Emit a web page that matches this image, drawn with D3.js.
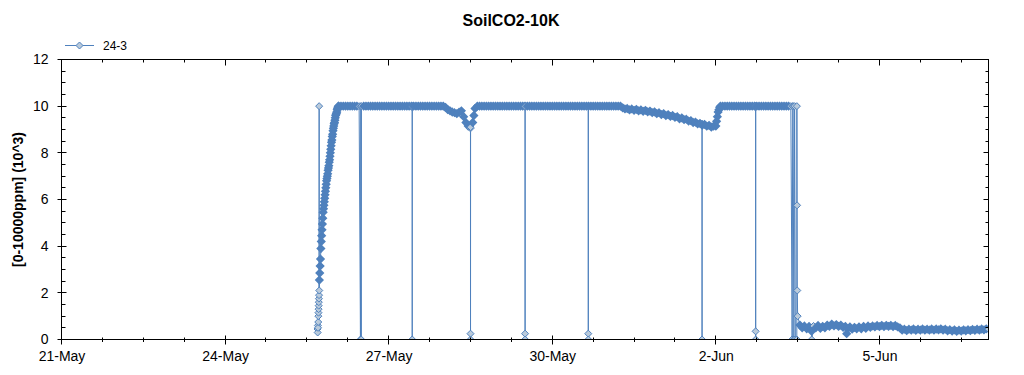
<!DOCTYPE html>
<html>
<head>
<meta charset="utf-8">
<script src="https://cdn.jsdelivr.net/npm/d3@7"></script>
<style>
  body { margin: 0; background: #fff; }
  text { font-family: "Liberation Sans", Arial, sans-serif; }
</style>
</head>
<body>
<svg id="chart" width="1024" height="375"></svg>
<script>
var chartTitle = "SoilCO2-10K";
var yTitle = "[0-10000ppm] (10^3)";
var seriesName = "24-3";
var yTicks = [0, 2, 4, 6, 8, 10, 12];
var xTickDates = ["2015-05-21 00:00", "2015-05-24 00:00", "2015-05-27 00:00",
                  "2015-05-30 00:00", "2015-06-02 00:00", "2015-06-05 00:00"];
var xDomain = ["2015-05-21 00:00", "2015-06-07 00:00"];

// sensor switched on, 25-May afternoon (a few minutes apart)
var startupTimes = ["2015-05-25 16:40", "2015-05-25 16:45", "2015-05-25 16:50", "2015-05-25 16:55",
                    "2015-05-25 17:00", "2015-05-25 17:03", "2015-05-25 17:06", "2015-05-25 17:09",
                    "2015-05-25 17:12", "2015-05-25 17:15", "2015-05-25 17:18", "2015-05-25 17:21",
                    "2015-05-25 17:24", "2015-05-25 17:27"];
var startupValues = [0.45, 0.3, 0.6, 0.5, 0.75, 1.0, 1.15, 1.3, 1.45, 1.6, 1.75, 1.9, 10, 2.1];

// the climb up to the 10 limit, every 10 min from 25-May 17:30
var riseStart = "2015-05-25 17:30";
var riseValues = [2.55, 2.85, 3.15,
  3.45, 3.9, 4.2, 4.45, 4.7, 4.95,
  5.2, 5.45, 5.6, 5.75, 5.9, 6.05,
  6.2, 6.35, 6.5, 6.65, 6.8, 6.9,
  7.0, 7.1, 7.25, 7.35, 7.45, 7.6,
  7.7, 7.85, 8.0, 8.15, 8.3, 8.45,
  8.55, 8.7, 8.8, 8.95, 9.05, 9.15,
  9.25, 9.3, 9.4, 9.5, 9.6, 9.65,
  9.7, 9.75, 9.85, 9.9, 9.95, 10,
  10];

// hourly readings from 26-May 03:00
var hourlyStart = "2015-05-26 03:00";
var hourlyValues = [
  /* 26-May 03-23 */ 10,10,10,10,10,10,10,10,10,10,10,10,10,10,10,10,10,10,10,10,10,
  /* 27-May */ 10,10,10,10,10,10,10,10,10,10,10,10,10,10,10,10,10,10,10,10,10,10,10,10,
  /* 28-May */ 10,9.95,9.85,9.8,9.75,9.72,9.68,9.74,9.8,9.55,9.3,9.15,9.05,9.3,9.9,10,10,10,10,10,10,10,10,10,
  /* 29-May */ 10,10,10,10,10,10,10,10,10,10,10,10,10,10,10,10,10,10,10,10,10,10,10,10,
  /* 30-May */ 10,10,10,10,10,10,10,10,10,10,10,10,10,10,10,10,10,10,10,10,10,10,10,10,
  /* 31-May */ 10,10,10,10,10,10,10,9.93,9.88,9.9,9.84,9.88,9.82,9.86,9.8,9.84,9.78,9.82,9.76,9.79,9.72,9.76,9.68,9.72,
  /* 1-Jun */ 9.64,9.68,9.6,9.64,9.56,9.6,9.52,9.55,9.46,9.5,9.42,9.44,9.36,9.38,9.3,9.32,9.24,9.26,9.18,9.22,9.14,9.18,9.1,9.14,
  /* 2-Jun */ 9.15,9.75,10,10,10,10,10,10,10,10,10,10,10,10,10,10,10,10,10,10,10,10,10,10,
  /* 3-Jun */ 10,10,10,10,10,10,10,10,10,10,10,0,1.0,0.62,0.5,0.58,0.46,0.56,0.48,0.58,0.5,0.6,0.48,0.56,
  /* 4-Jun */ 0.5,0.62,0.56,0.66,0.58,0.64,0.56,0.62,0.52,0.56,0.46,0.54,0.44,0.52,0.46,0.54,0.46,0.56,0.48,0.58,0.52,0.58,0.54,0.6,
  /* 5-Jun */ 0.55,0.61,0.55,0.61,0.56,0.61,0.55,0.6,0.54,0.5,0.4,0.44,0.38,0.44,0.4,0.45,0.39,0.44,0.4,0.45,0.4,0.44,0.4,0.45,
  /* 6-Jun */ 0.4,0.45,0.41,0.46,0.4,0.44,0.37,0.42,0.36,0.41,0.35,0.4,0.36,0.41,0.37,0.42,0.38,0.43,0.39,0.44,0.4,0.45,0.41,0.46,
  /* 7-Jun */ 0.44
];

// dropouts and quick changes between the hourly readings
var eventTimes = [
  "2015-05-26 11:35", "2015-05-26 11:45", "2015-05-26 11:55",
  "2015-05-27 10:21", "2015-05-27 10:22", "2015-05-27 10:23",
  "2015-05-28 12:01", "2015-05-28 12:02", "2015-05-28 12:03", "2015-05-28 13:30",
  "2015-05-29 12:01", "2015-05-29 12:02", "2015-05-29 12:03", "2015-05-29 12:04",
  "2015-05-30 15:50", "2015-05-30 15:51", "2015-05-30 15:52", "2015-05-30 15:53",
  "2015-06-01 17:55", "2015-06-01 17:56", "2015-06-01 17:57",
  "2015-06-02 00:20", "2015-06-02 00:40", "2015-06-02 01:20", "2015-06-02 01:40",
  "2015-06-02 17:30", "2015-06-02 17:31", "2015-06-02 17:32", "2015-06-02 17:33",
  "2015-06-03 09:35", "2015-06-03 09:50", "2015-06-03 10:20", "2015-06-03 10:40",
  "2015-06-03 11:38", "2015-06-03 11:40", "2015-06-03 11:45", "2015-06-03 11:50",
  "2015-06-03 18:08", "2015-06-03 18:12",
  "2015-06-04 09:35"
];
var eventValues = [
  0, 10, 0,
  10, 0, 10,
  0.25, 0, 9.1, 9.6,
  10, 0.25, 0, 10,
  10, 0.25, 0, 10,
  9.25, 0, 9.22,
  9.35, 9.55, 9.85, 9.95,
  10, 0.35, 0, 10,
  0, 10, 0, 10,
  0, 10, 5.75, 2.1,
  0.35, 0,
  0.25
];

var parse = d3.timeParse("%Y-%m-%d %H:%M");

var data = [];
startupTimes.forEach(function (t, i) { data.push({t: parse(t), v: startupValues[i], src: "startup"}); });
riseValues.forEach(function (v, i) { data.push({t: d3.timeMinute.offset(parse(riseStart), i * 10), v: v, src: "rise"}); });
hourlyValues.forEach(function (v, i) { data.push({t: d3.timeHour.offset(parse(hourlyStart), i), v: v, src: "hourly"}); });
eventTimes.forEach(function (t, i) { data.push({t: parse(t), v: eventValues[i], src: "event"}); });
data.sort(function (a, b) { return a.t - b.t; });

var svg = d3.select("#chart");
var pL = 61.5, pR = 988.5, pT = 59.5, pB = 339.5;
var blue = "#4F81BD", markFill = "#B9CADB";

var x = d3.scaleTime().domain(xDomain.map(parse)).range([pL, pR]);
var y = d3.scaleLinear().domain([0, 12]).range([pB, pT]);

// markers packed between close neighbours merge into a solid band (as in the dense original)
function near(a, b) {
  return !!a && !!b && Math.abs(x(b.t) - x(a.t)) < 3 && Math.abs(y(b.v) - y(a.v)) < 11;
}
data.forEach(function (d, i) {
  d.crowded = d.src !== "startup" && near(d, data[i + 1]) && near(d, data[i - 1]);
});

// title and axis title
svg.append("text")
    .attr("x", 511).attr("y", 26)
    .attr("text-anchor", "middle")
    .style("font-size", "16px").style("font-weight", "bold")
    .text(chartTitle);

svg.append("text")
    .attr("transform", "translate(23," + ((pT + pB) / 2) + ") rotate(-90)")
    .attr("text-anchor", "middle")
    .style("font-size", "14px").style("font-weight", "bold")
    .text(yTitle);

// legend
var legend = svg.append("g");
legend.append("line").attr("x1", 65).attr("x2", 94).attr("y1", 45.5).attr("y2", 45.5)
    .attr("stroke", blue).attr("stroke-width", 1);
legend.append("path").attr("d", "M0,-3.5L3.5,0L0,3.5L-3.5,0Z")
    .attr("transform", "translate(79.5,45.5)")
    .attr("fill", markFill).attr("stroke", blue);
legend.append("text").attr("x", 103).attr("y", 49.5)
    .style("font-size", "12px").text(seriesName);

// series, clipped to the plot area
svg.append("clipPath").attr("id", "plotClip")
    .append("rect").attr("x", pL).attr("y", pT).attr("width", pR - pL).attr("height", pB - pT);

var plot = svg.append("g").attr("clip-path", "url(#plotClip)");

plot.append("path")
    .datum(data)
    .attr("fill", "none")
    .attr("stroke", blue)
    .attr("stroke-width", 1)
    .attr("d", d3.line().x(function (d) { return x(d.t); }).y(function (d) { return y(d.v); }));

plot.selectAll("path.mark")
    .data(data)
    .join("path")
    .attr("class", "mark")
    .attr("d", "M0,-3.5L3.5,0L0,3.5L-3.5,0Z")
    .attr("transform", function (d) { return "translate(" + x(d.t) + "," + y(d.v) + ")"; })
    .attr("fill", function (d) { return d.crowded ? blue : markFill; })
    .attr("stroke", blue)
    .attr("stroke-width", function (d) { return d.crowded ? 1.6 : 1; });

// frame
svg.append("rect")
    .attr("x", pL).attr("y", pT).attr("width", pR - pL).attr("height", pB - pT)
    .attr("fill", "none").attr("stroke", "#000");

// tick positions
var majorX = xTickDates.map(parse);
var minorX = d3.range(0, 17.001, 0.75).map(function (d) { return d3.timeMinute.offset(parse(xDomain[0]), Math.round(d * 1440)); })
    .filter(function (d) { return !majorX.some(function (m) { return +m === +d; }); });
var minorY = d3.range(0, 12.001, 0.5).filter(function (d) { return yTicks.indexOf(d) < 0; });

var ticks = svg.append("g").attr("stroke", "#000").attr("stroke-width", 1);
function tickLines(vals, fx, fy) {
  vals.forEach(function (v) {
    var p = fx(v); var q = fy(v);
    ticks.append("line").attr("x1", p[0]).attr("x2", p[1]).attr("y1", q[0]).attr("y2", q[1]);
  });
}
function px(d) { return Math.round(x(d) - 0.5) + 0.5; }
function py(d) { return Math.round(y(d) - 0.5) + 0.5; }

// bottom: major crossing, minor crossing short
tickLines(majorX, function (d) { return [px(d), px(d)]; }, function () { return [pB - 4, pB + 5]; });
tickLines(minorX, function (d) { return [px(d), px(d)]; }, function () { return [pB - 2, pB + 2.5]; });
// top: inward
tickLines(majorX, function (d) { return [px(d), px(d)]; }, function () { return [pT, pT + 6]; });
tickLines(minorX, function (d) { return [px(d), px(d)]; }, function () { return [pT, pT + 3]; });
// left: major crossing, minor inward
tickLines(yTicks, function () { return [pL - 4, pL + 5]; }, function (d) { return [py(d), py(d)]; });
tickLines(minorY, function () { return [pL, pL + 4]; }, function (d) { return [py(d), py(d)]; });
// right: inward
tickLines(yTicks, function () { return [pR - 5, pR]; }, function (d) { return [py(d), py(d)]; });
tickLines(minorY, function () { return [pR - 3, pR]; }, function (d) { return [py(d), py(d)]; });

// labels from the d3 axes
var xAxis = svg.append("g")
    .attr("transform", "translate(0," + pB + ")")
    .call(d3.axisBottom(x).tickValues(majorX).tickFormat(d3.timeFormat("%-d-%b")).tickSize(5).tickPadding(7));
var yAxis = svg.append("g")
    .attr("transform", "translate(" + pL + ",0)")
    .call(d3.axisLeft(y).tickValues(yTicks).tickSize(4).tickPadding(9));

[xAxis, yAxis].forEach(function (g) {
  g.select(".domain").remove();
  g.selectAll(".tick line").remove();
  g.attr("font-family", null).attr("font-size", null);
  g.selectAll("text").style("font-size", "14px").attr("fill", "#000");
});
</script>
</body>
</html>
